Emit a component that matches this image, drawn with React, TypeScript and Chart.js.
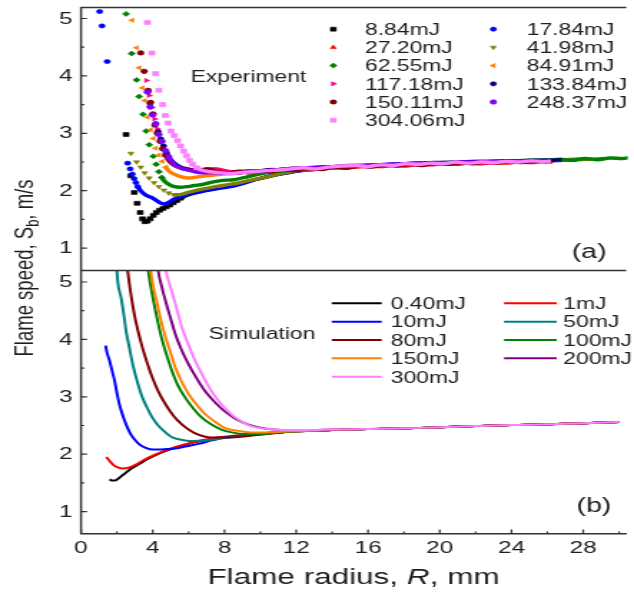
import React, { useEffect, useRef } from 'react';
import { Chart, registerables } from 'chart.js';
import { drawPoint } from 'chart.js/helpers';

Chart.register(...registerables);

type P = [number, number];

// ---------- tick labels ----------
const xTickValues = [0, 4, 8, 12, 16, 20, 24, 28];
const yTickValues = [1, 2, 3, 4, 5];

// ---------- legend labels ----------
const expLabels = ['8.84mJ', '17.84mJ', '27.20mJ', '41.98mJ', '62.55mJ', '84.91mJ', '117.18mJ', '133.84mJ', '150.11mJ', '248.37mJ', '304.06mJ'];
const simLabels = ['0.40mJ', '1mJ', '10mJ', '50mJ', '80mJ', '100mJ', '150mJ', '200mJ', '300mJ'];

// ---------- experiment (a): sparse early points (markers) ----------
const exp884Head: P[] = [[2.51, 2.98], [2.77, 2.26], [2.97, 1.97], [3.13, 1.78], [3.30, 1.62], [3.43, 1.51], [3.56, 1.46], [3.70, 1.47], [3.86, 1.51], [4.03, 1.57], [4.20, 1.62], [4.38, 1.66], [4.57, 1.69], [4.76, 1.72], [4.95, 1.75], [5.15, 1.79], [5.35, 1.83], [5.55, 1.87]];
const exp1784Head: P[] = [[1.04, 5.12], [1.17, 4.87], [1.46, 4.25], [2.60, 2.48], [2.74, 2.38], [2.86, 2.29], [2.96, 2.21], [3.06, 2.14], [3.16, 2.07]];
const exp2720Head: P[] = [[6.45, 2.33], [6.70, 2.35], [6.95, 2.37]];
const exp4198Head: P[] = [[2.78, 2.65], [3.10, 2.50], [3.33, 2.41], [3.55, 2.31], [3.80, 2.22], [4.07, 2.14], [4.34, 2.07], [4.62, 2.01], [4.89, 1.96], [5.16, 1.93]];
const exp6255Head: P[] = [[2.51, 5.08], [2.82, 4.39], [3.10, 3.93], [3.24, 3.64], [3.46, 3.33], [3.63, 3.04], [3.80, 2.80], [4.03, 2.60], [4.19, 2.46], [4.34, 2.33], [4.50, 2.23]];
const exp8491Head: P[] = [[2.84, 4.97], [3.10, 4.49], [3.24, 4.14], [3.42, 3.79], [3.55, 3.57], [3.70, 3.28], [3.88, 3.06], [4.03, 2.91], [4.16, 2.74], [4.33, 2.62], [4.52, 2.51], [4.72, 2.41]];
const exp11718Head: P[] = [[3.65, 3.92], [3.80, 3.66], [3.95, 3.45], [4.10, 3.25], [4.25, 3.08], [4.40, 2.92], [4.58, 2.78], [4.78, 2.64], [4.98, 2.53]];
const exp13384Head: P[] = [[3.72, 3.72], [3.85, 3.52], [4.00, 3.33], [4.16, 3.17], [4.30, 3.03], [4.45, 2.90], [4.60, 2.78], [4.75, 2.67]];
const exp15011Head: P[] = [[3.33, 4.40], [3.52, 4.08], [3.74, 3.75], [3.88, 3.54], [4.01, 3.34], [4.12, 3.14], [4.25, 3.00], [4.40, 2.86], [4.55, 2.73], [4.70, 2.62]];
const exp24837Head: P[] = [[3.70, 3.72], [3.85, 3.46], [4.00, 3.32], [4.16, 3.16], [4.34, 2.98], [4.52, 2.86], [4.71, 2.70], [4.89, 2.59]];
const exp30406Head: P[] = [[3.70, 4.93], [3.95, 4.40], [4.16, 4.04], [4.34, 3.75], [4.55, 3.50], [4.70, 3.31], [4.85, 3.18], [5.02, 3.04], [5.20, 2.96], [5.38, 2.87], [5.55, 2.78], [5.72, 2.69], [5.88, 2.61], [6.05, 2.53], [6.22, 2.46], [6.45, 2.40]];

// ---------- experiment (a): dense later points (drawn as a continuous trace) ----------
const exp884Tail: P[] = [[5.55, 1.87], [6.0, 1.93], [6.6, 1.98], [7.3, 2.03], [8.0, 2.07], [8.7, 2.12], [9.4, 2.17], [10.1, 2.22], [10.8, 2.27], [11.5, 2.31], [12.2, 2.35], [13.0, 2.37], [14.0, 2.40], [15.0, 2.42], [16.0, 2.43], [17.0, 2.45], [18.0, 2.46], [19.0, 2.47], [20.0, 2.48], [21.0, 2.49], [22.0, 2.50], [23.0, 2.50], [24.0, 2.51], [25.0, 2.52], [26.0, 2.52], [27.0, 2.53], [27.6, 2.53]];
const exp1784Tail: P[] = [[3.16, 2.07], [3.32, 2.00], [3.5, 1.95], [3.7, 1.91], [3.95, 1.88], [4.2, 1.83], [4.4, 1.79], [4.58, 1.77], [4.78, 1.78], [5.0, 1.82], [5.25, 1.86], [5.55, 1.90], [5.9, 1.93], [6.3, 1.96], [6.8, 1.99], [7.3, 2.02], [7.9, 2.05], [8.5, 2.08], [9.1, 2.13], [9.7, 2.19], [10.3, 2.24], [10.9, 2.28], [11.6, 2.32], [12.3, 2.35], [13.1, 2.38], [14.0, 2.40], [15.0, 2.42], [16.0, 2.44], [17.0, 2.45], [18.0, 2.46], [19.0, 2.48], [20.0, 2.48], [21.0, 2.50], [22.0, 2.50], [23.0, 2.51], [24.0, 2.52], [25.0, 2.52], [26.0, 2.53], [27.0, 2.54], [28.0, 2.55], [28.4, 2.55]];
const exp2720Tail: P[] = [[6.95, 2.37], [7.5, 2.38], [8.1, 2.34], [8.7, 2.31], [9.3, 2.33], [9.9, 2.35], [10.5, 2.34], [11.1, 2.37], [11.8, 2.38], [12.5, 2.37], [13.2, 2.40], [13.9, 2.39], [14.6, 2.42], [15.3, 2.41], [16.0, 2.43], [16.7, 2.42], [17.4, 2.44], [18.1, 2.43], [18.8, 2.46], [19.5, 2.45], [20.2, 2.47], [20.9, 2.46], [21.6, 2.48], [22.3, 2.47], [23.0, 2.49], [23.7, 2.48], [24.4, 2.50], [25.1, 2.49], [25.8, 2.51], [26.3, 2.50]];
const exp4198Tail: P[] = [[5.16, 1.93], [5.45, 1.93], [5.75, 1.95], [6.1, 1.98], [6.5, 2.01], [7.0, 2.04], [7.5, 2.07], [8.1, 2.10], [8.7, 2.13], [9.3, 2.17], [9.9, 2.21], [10.5, 2.25], [11.2, 2.30], [11.9, 2.34], [12.7, 2.37], [13.5, 2.39], [14.5, 2.41], [15.5, 2.43], [16.5, 2.44], [17.5, 2.45], [18.5, 2.47], [19.5, 2.48], [20.5, 2.49], [21.5, 2.50], [22.5, 2.50], [23.5, 2.51], [24.5, 2.52], [25.5, 2.52], [26.5, 2.53], [27.5, 2.54], [28.5, 2.55], [29.2, 2.56]];
const exp6255Tail: P[] = [[4.50, 2.23], [4.7, 2.15], [4.95, 2.10], [5.2, 2.07], [5.5, 2.06], [5.9, 2.07], [6.3, 2.09], [6.8, 2.11], [7.3, 2.15], [7.9, 2.18], [8.5, 2.19], [9.1, 2.23], [9.8, 2.28], [10.5, 2.32], [11.2, 2.34], [12.0, 2.37], [12.8, 2.39], [13.6, 2.40], [14.4, 2.42], [15.2, 2.43], [16.0, 2.44], [17.0, 2.45], [18.0, 2.47], [19.0, 2.48], [20.0, 2.49], [21.0, 2.50], [22.0, 2.51], [23.0, 2.51], [24.0, 2.52], [25.0, 2.53], [26.0, 2.53], [26.7, 2.55], [27.4, 2.53], [28.1, 2.56], [28.8, 2.54], [29.5, 2.57], [30.2, 2.56], [30.6, 2.58]];
const exp8491Tail: P[] = [[4.72, 2.41], [4.95, 2.33], [5.25, 2.28], [5.6, 2.24], [6.0, 2.22], [6.5, 2.24], [7.0, 2.26], [7.6, 2.28], [8.2, 2.30], [8.9, 2.32], [9.6, 2.33], [10.3, 2.35], [11.0, 2.36], [11.8, 2.38], [12.6, 2.39], [13.4, 2.41], [14.2, 2.42], [15.0, 2.43], [16.0, 2.44], [17.0, 2.45], [18.0, 2.46], [19.0, 2.48], [20.0, 2.48], [21.0, 2.49], [22.0, 2.50], [23.0, 2.50], [24.0, 2.51], [25.0, 2.52]];
const exp11718Tail: P[] = [[4.98, 2.53], [5.25, 2.45], [5.6, 2.40], [6.0, 2.37], [6.5, 2.36], [7.0, 2.38], [7.5, 2.37], [8.1, 2.34], [8.7, 2.33], [9.3, 2.35], [9.9, 2.34], [10.6, 2.37], [11.3, 2.36], [12.0, 2.39], [12.8, 2.38], [13.6, 2.41], [14.4, 2.40], [15.2, 2.43], [16.0, 2.42], [16.8, 2.45], [17.6, 2.44], [18.4, 2.47], [19.2, 2.46], [20.0, 2.48], [20.8, 2.47], [21.6, 2.49], [22.4, 2.48], [23.2, 2.50], [24.0, 2.50]];
const exp13384Tail: P[] = [[4.75, 2.67], [4.95, 2.56], [5.2, 2.48], [5.5, 2.42], [5.9, 2.38], [6.4, 2.35], [7.0, 2.33], [7.6, 2.32], [8.3, 2.31], [9.0, 2.33], [9.7, 2.34], [10.4, 2.36], [11.1, 2.37], [11.8, 2.39], [12.5, 2.40], [13.3, 2.41], [14.1, 2.42], [14.9, 2.44], [15.7, 2.44], [16.5, 2.45], [17.3, 2.46], [18.1, 2.47], [18.9, 2.48], [19.7, 2.49], [20.5, 2.49], [21.3, 2.50], [22.1, 2.51], [22.9, 2.51], [23.7, 2.52], [24.5, 2.52], [25.3, 2.53], [26.1, 2.53], [26.8, 2.54]];
const exp15011Tail: P[] = [[4.70, 2.62], [4.9, 2.52], [5.2, 2.44], [5.6, 2.39], [6.1, 2.36], [6.6, 2.35], [7.1, 2.38], [7.6, 2.33], [8.2, 2.31], [8.8, 2.34], [9.4, 2.31], [10.0, 2.35], [10.6, 2.33], [11.3, 2.37], [12.0, 2.35], [12.7, 2.39], [13.4, 2.37], [14.1, 2.41], [14.8, 2.39], [15.5, 2.43], [16.2, 2.41], [16.9, 2.45], [17.6, 2.43], [18.3, 2.46], [19.0, 2.44], [19.7, 2.48], [20.4, 2.46], [21.1, 2.49], [21.8, 2.47], [22.5, 2.50], [23.2, 2.48], [23.9, 2.51], [24.6, 2.49], [25.3, 2.52], [26.0, 2.50]];
const exp24837Tail: P[] = [[4.89, 2.59], [5.15, 2.47], [5.6, 2.39], [6.1, 2.35], [6.8, 2.31], [7.6, 2.31], [8.4, 2.30], [9.1, 2.32], [9.8, 2.34], [10.5, 2.35], [11.2, 2.37], [11.9, 2.38], [12.6, 2.40], [13.3, 2.41], [14.0, 2.42], [14.8, 2.43], [15.6, 2.44], [16.4, 2.45], [17.2, 2.46], [18.0, 2.47], [18.8, 2.48], [19.6, 2.48], [20.4, 2.49], [21.2, 2.50], [22.0, 2.50], [22.8, 2.51], [23.6, 2.52], [24.4, 2.52], [25.2, 2.52]];
const exp30406Tail: P[] = [[6.45, 2.40], [6.7, 2.36], [7.2, 2.33], [7.8, 2.31], [8.4, 2.30], [9.0, 2.32], [9.6, 2.33], [10.3, 2.35], [11.0, 2.36], [11.7, 2.38], [12.4, 2.40], [13.1, 2.38], [13.8, 2.41], [14.5, 2.43], [15.3, 2.44], [16.0, 2.42], [16.7, 2.45], [17.4, 2.44], [18.1, 2.47], [18.8, 2.46], [19.5, 2.48], [20.2, 2.47], [20.9, 2.50], [21.6, 2.48], [22.3, 2.50], [23.0, 2.49], [23.7, 2.51], [24.4, 2.50], [25.1, 2.52], [25.8, 2.51], [26.2, 2.52]];

// ---------- simulation (b) ----------
const sim040: P[] = [[1.59, 1.56], [1.75, 1.54], [1.90, 1.54], [2.10, 1.58], [2.30, 1.63], [2.51, 1.68], [2.80, 1.75], [3.24, 1.83], [3.80, 1.93], [4.50, 2.03], [5.30, 2.12], [6.20, 2.20], [7.20, 2.26], [8.50, 2.31], [10.0, 2.35], [12.0, 2.40], [14.0, 2.42], [16.0, 2.44], [18.0, 2.45], [20.0, 2.47], [22.0, 2.49], [24.0, 2.51], [26.0, 2.52], [28.0, 2.54], [30.0, 2.56]];
const sim1: P[] = [[1.41, 1.95], [1.55, 1.90], [1.78, 1.82], [2.05, 1.77], [2.33, 1.75], [2.70, 1.77], [3.06, 1.82], [3.50, 1.90], [3.97, 1.97], [4.89, 2.09], [6.17, 2.20], [7.20, 2.27], [8.50, 2.32], [10.0, 2.36], [12.0, 2.40], [14.0, 2.42], [16.0, 2.44], [18.0, 2.45], [20.0, 2.47], [22.0, 2.49], [24.0, 2.51], [26.0, 2.52], [28.0, 2.54], [30.0, 2.56]];
const sim10: P[] = [[1.37, 3.89], [1.45, 3.77], [1.59, 3.63], [1.75, 3.43], [1.87, 3.28], [2.00, 3.07], [2.14, 2.87], [2.30, 2.70], [2.51, 2.52], [2.75, 2.36], [3.06, 2.23], [3.30, 2.16], [3.61, 2.11], [4.00, 2.08], [4.34, 2.08], [4.80, 2.09], [5.26, 2.10], [5.90, 2.14], [6.54, 2.18], [7.30, 2.24], [8.00, 2.29], [9.00, 2.33], [10.3, 2.37], [12.0, 2.40], [14.0, 2.42], [16.0, 2.44], [18.0, 2.45], [20.0, 2.47], [22.0, 2.49], [24.0, 2.51], [26.0, 2.52], [28.0, 2.54], [30.0, 2.56]];
const sim50: P[] = [[1.97, 5.35], [2.05, 5.00], [2.23, 4.73], [2.40, 4.40], [2.51, 4.15], [2.70, 3.85], [2.88, 3.57], [3.15, 3.25], [3.42, 2.99], [3.70, 2.80], [3.97, 2.64], [4.30, 2.50], [4.71, 2.38], [5.05, 2.30], [5.44, 2.26], [5.80, 2.24], [6.17, 2.23], [6.70, 2.24], [7.26, 2.25], [8.00, 2.28], [8.74, 2.31], [10.0, 2.35], [12.0, 2.40], [14.0, 2.42], [16.0, 2.44], [18.0, 2.45], [20.0, 2.47], [22.0, 2.49], [24.0, 2.51], [26.0, 2.52], [28.0, 2.54], [30.0, 2.56]];
const sim80: P[] = [[2.55, 5.35], [2.60, 5.20], [2.75, 4.85], [2.97, 4.44], [3.20, 4.12], [3.42, 3.86], [3.70, 3.58], [3.97, 3.34], [4.30, 3.10], [4.71, 2.87], [5.15, 2.67], [5.62, 2.52], [6.10, 2.41], [6.54, 2.34], [7.00, 2.30], [7.45, 2.29], [8.00, 2.29], [8.74, 2.30], [10.0, 2.34], [12.0, 2.40], [14.0, 2.42], [16.0, 2.44], [18.0, 2.45], [20.0, 2.47], [22.0, 2.49], [24.0, 2.51], [26.0, 2.52], [28.0, 2.54], [30.0, 2.56]];
const sim100: P[] = [[3.70, 5.35], [3.75, 5.20], [3.90, 4.90], [4.07, 4.62], [4.30, 4.28], [4.53, 3.98], [4.80, 3.70], [5.07, 3.45], [5.40, 3.20], [5.80, 2.99], [6.25, 2.80], [6.72, 2.64], [7.25, 2.52], [7.82, 2.43], [8.40, 2.38], [9.10, 2.35], [10.0, 2.35], [10.7, 2.37], [12.0, 2.40], [14.0, 2.42], [16.0, 2.44], [18.0, 2.45], [20.0, 2.47], [22.0, 2.49], [24.0, 2.51], [26.0, 2.52], [28.0, 2.54], [30.0, 2.56]];
const sim150: P[] = [[3.83, 5.35], [3.88, 5.20], [4.05, 4.88], [4.25, 4.62], [4.48, 4.30], [4.71, 4.04], [5.00, 3.76], [5.26, 3.51], [5.60, 3.27], [5.99, 3.05], [6.45, 2.86], [6.91, 2.70], [7.45, 2.57], [8.00, 2.46], [8.70, 2.41], [9.47, 2.38], [10.3, 2.38], [11.2, 2.39], [12.0, 2.40], [14.0, 2.42], [16.0, 2.44], [18.0, 2.45], [20.0, 2.47], [22.0, 2.49], [24.0, 2.51], [26.0, 2.52], [28.0, 2.54], [30.0, 2.56]];
const sim200: P[] = [[4.25, 5.35], [4.30, 5.20], [4.50, 4.92], [4.71, 4.67], [5.00, 4.36], [5.26, 4.09], [5.60, 3.82], [5.99, 3.57], [6.45, 3.32], [6.91, 3.10], [7.45, 2.91], [8.00, 2.75], [8.60, 2.62], [9.29, 2.52], [10.0, 2.46], [10.75, 2.43], [11.6, 2.42], [12.6, 2.42], [14.0, 2.43], [16.0, 2.44], [18.0, 2.45], [20.0, 2.47], [22.0, 2.49], [24.0, 2.51], [26.0, 2.52], [28.0, 2.54], [30.0, 2.56]];
const sim300: P[] = [[4.69, 5.35], [4.74, 5.20], [4.95, 4.95], [5.16, 4.73], [5.40, 4.46], [5.62, 4.21], [6.00, 3.90], [6.36, 3.63], [6.80, 3.36], [7.27, 3.10], [7.80, 2.88], [8.37, 2.70], [8.90, 2.58], [9.47, 2.49], [10.1, 2.45], [10.75, 2.43], [11.6, 2.42], [12.6, 2.42], [14.0, 2.43], [16.0, 2.44], [18.0, 2.45], [20.0, 2.47], [22.0, 2.49], [24.0, 2.51], [26.0, 2.52], [28.0, 2.54], [30.0, 2.56]];

const expHeads = [exp884Head, exp1784Head, exp2720Head, exp4198Head, exp6255Head, exp8491Head, exp11718Head, exp13384Head, exp15011Head, exp24837Head, exp30406Head];
const expTails = [exp884Tail, exp1784Tail, exp2720Tail, exp4198Tail, exp6255Tail, exp8491Tail, exp11718Tail, exp13384Tail, exp15011Tail, exp24837Tail, exp30406Tail];
const simSeries = [sim040, sim1, sim10, sim50, sim80, sim100, sim150, sim200, sim300];

// ---------- styles ----------
const expColors = ['#000000', '#0000ff', '#ff0000', '#808000', '#008000', '#ff8000', '#ff0080', '#000080', '#800000', '#8000ff', '#ff80ff'];
const expMarkers = ['rect', 'circle', 'triangle', 'triangle', 'rectRot', 'triangle', 'triangle', 'circle', 'star', 'circle', 'rect'];
const expRotations = [0, 0, 0, 180, 0, -90, 90, 0, 0, 0, 0];
const expRadius = [2.8, 2.1, 2.4, 2.4, 2.5, 2.4, 2.4, 2.1, 2.6, 2.3, 2.9];
const simColors = ['#000000', '#ff0000', '#0000ff', '#008080', '#800000', '#008000', '#ff8000', '#800080', '#ff80ff'];

const VIEW_W = 634;
const VIEW_H = 592;
const CW = 443; // logical canvas width, stretched horizontally to VIEW_W
const FONT = '"Liberation Sans", Arial, Helvetica, sans-serif';
const AXIS = '#333333';
const TEXT = '#1e1e1e';

const toXY = (arr: P[]) => arr.map(([x, y]) => ({ x, y }));

const decorPlugin = {
  id: 'decor',
  afterDraw(chart: any) {
    const ctx: CanvasRenderingContext2D = chart.ctx;
    const { left, right, top, bottom } = chart.chartArea;
    const xs = chart.scales.x;
    const ya = chart.scales.ya;
    const yb = chart.scales.yb;
    ctx.save();
    ctx.strokeStyle = AXIS;
    ctx.lineWidth = 1.5;
    ctx.beginPath();
    ctx.moveTo(left, top + 0.5);
    ctx.lineTo(right, top + 0.5);
    ctx.moveTo(left, ya.bottom);
    ctx.lineTo(right, ya.bottom);
    ctx.moveTo(left, top);
    ctx.lineTo(left, bottom);
    ctx.stroke();

    // inward tick marks
    ctx.lineWidth = 1.2;
    ctx.beginPath();
    [ya, yb].forEach((s: any) => {
      for (let v = 1; v <= 5; v += 0.5) {
        const py = s.getPixelForValue(v);
        if (py < s.top || py > s.bottom) continue;
        const len = Number.isInteger(v) ? 4.2 : 2.3;
        ctx.moveTo(left, py);
        ctx.lineTo(left + len, py);
      }
    });
    for (let v = 0; v <= 30; v += 2) {
      const px = xs.getPixelForValue(v);
      const len = v % 4 === 0 ? 4.5 : 2.5;
      ctx.moveTo(px, bottom);
      ctx.lineTo(px, bottom - len);
    }
    ctx.stroke();

    // y tick labels for both stacked panels
    ctx.fillStyle = TEXT;
    ctx.font = `17px ${FONT}`;
    ctx.textAlign = 'right';
    ctx.textBaseline = 'middle';
    [ya, yb].forEach((s: any) => {
      yTickValues.forEach((v) => {
        ctx.fillText(String(v), left - 6, s.getPixelForValue(v) + 0.5);
      });
    });

    // panel texts
    ctx.font = `16px ${FONT}`;
    ctx.textAlign = 'center';
    ctx.textBaseline = 'alphabetic';
    ctx.fillText('Experiment', 173.6, 81.5);
    ctx.fillText('Simulation', 183, 339);
    ctx.font = `20px ${FONT}`;
    ctx.fillText('(a)', 411.6, 258);
    ctx.fillText('(b)', 415, 512);

    // experiment legend
    ctx.font = `16px ${FONT}`;
    ctx.textAlign = 'left';
    expLabels.forEach((lab, i) => {
      const col = i % 2;
      const row = Math.floor(i / 2);
      const cy = 29.2 + row * 18.2;
      const mx = col === 0 ? 232.9 : 344.7;
      const tx = col === 0 ? 255 : 368;
      ctx.fillStyle = expColors[i];
      ctx.strokeStyle = expColors[i];
      const bw = expMarkers[i] === 'star' ? 1.4 : 0.6;
      ctx.lineWidth = bw;
      drawPoint(ctx, { pointStyle: expMarkers[i] as any, rotation: expRotations[i], radius: expRadius[i], borderWidth: bw } as any, mx, cy);
      ctx.fillStyle = TEXT;
      ctx.fillText(lab, tx, cy + 5.8);
    });

    // simulation legend
    simLabels.forEach((lab, i) => {
      const col = i % 2;
      const row = Math.floor(i / 2);
      const cy = 303.3 + row * 18.35;
      const x0 = col === 0 ? 231.8 : 352.2;
      const x1 = col === 0 ? 266.7 : 389;
      const tx = col === 0 ? 273 : 393.6;
      ctx.strokeStyle = simColors[i];
      ctx.lineWidth = 2;
      ctx.beginPath();
      ctx.moveTo(x0, cy);
      ctx.lineTo(x1, cy);
      ctx.stroke();
      ctx.fillStyle = TEXT;
      ctx.fillText(lab, tx, cy + 5.8);
    });

    // x axis title with italic R
    {
      const parts: [string, string][] = [['Flame radius, ', 'normal'], ['R', 'italic'], [', mm', 'normal']];
      const size = 22;
      let total = 0;
      const widths = parts.map(([t, st]) => {
        ctx.font = `${st} ${size}px ${FONT}`;
        const w = ctx.measureText(t).width;
        total += w;
        return w;
      });
      let x = 247 - total / 2;
      ctx.textAlign = 'left';
      parts.forEach(([t, st], i) => {
        ctx.font = `${st} ${size}px ${FONT}`;
        ctx.fillText(t, x, 584);
        x += widths[i];
      });
    }

    // y axis title with subscript b (rotated)
    {
      const size = 18.5;
      const sub = 13;
      ctx.save();
      ctx.translate(23, 268);
      ctx.rotate(-Math.PI / 2);
      ctx.font = `${size}px ${FONT}`;
      const a = 'Flame speed, S';
      const c = ', m/s';
      const wa = ctx.measureText(a).width;
      const wc = ctx.measureText(c).width;
      ctx.font = `${sub}px ${FONT}`;
      const wb = ctx.measureText('b').width;
      const total = wa + wb + wc;
      let x = -total / 2;
      ctx.textAlign = 'left';
      ctx.font = `${size}px ${FONT}`;
      ctx.fillText(a, x, 0);
      x += wa;
      ctx.font = `${sub}px ${FONT}`;
      ctx.fillText('b', x, 4);
      x += wb;
      ctx.font = `${size}px ${FONT}`;
      ctx.fillText(c, x, 0);
      ctx.restore();
    }
    ctx.restore();
  },
};

export default function App() {
  const ref = useRef<HTMLCanvasElement>(null);

  useEffect(() => {
    const canvas = ref.current;
    if (!canvas) return;
    const datasets: any[] = [];

    simSeries.forEach((d, i) => {
      datasets.push({
        label: simLabels[i],
        data: toXY(d),
        xAxisID: 'x',
        yAxisID: 'yb',
        borderColor: simColors[i],
        backgroundColor: simColors[i],
        borderWidth: 2,
        pointRadius: 0,
        cubicInterpolationMode: 'monotone',
        fill: false,
        clip: 0,
        order: 200 - i,
      });
    });

    expHeads.forEach((d, i) => {
      datasets.push({
        label: expLabels[i] + ' trace',
        data: toXY(expTails[i]),
        xAxisID: 'x',
        yAxisID: 'ya',
        borderColor: expColors[i],
        backgroundColor: expColors[i],
        borderWidth: 3.4,
        pointRadius: 0,
        cubicInterpolationMode: 'monotone',
        fill: false,
        clip: 1,
        order: 100 - 2 * i,
      });
      datasets.push({
        label: expLabels[i],
        data: toXY(d),
        xAxisID: 'x',
        yAxisID: 'ya',
        showLine: false,
        borderColor: expColors[i],
        backgroundColor: expColors[i],
        pointStyle: expMarkers[i],
        pointRotation: expRotations[i],
        pointRadius: expRadius[i],
        pointBorderWidth: expMarkers[i] === 'star' ? 1.4 : 0.6,
        pointBackgroundColor: expColors[i],
        pointBorderColor: expColors[i],
        clip: 4,
        order: 100 - 2 * i - 1,
      });
    });

    const yCommon = () => ({
      type: 'linear',
      position: 'left',
      stack: 'panels',
      stackWeight: 1,
      min: 0.61,
      max: 5.2,
      afterBuildTicks: (s: any) => {
        s.ticks = yTickValues.map((v) => ({ value: v }));
      },
      afterFit: (s: any) => {
        s.width = 56.6;
      },
      grid: { display: false, drawTicks: false },
      border: { display: false },
      ticks: { display: false },
    });

    const chart = new Chart(canvas, {
      type: 'line',
      data: { datasets },
      options: {
        responsive: false,
        animation: false,
        devicePixelRatio: 1,
        events: [],
        layout: { padding: { left: 0, right: 0, top: 7, bottom: 0 } },
        plugins: { legend: { display: false }, tooltip: { enabled: false } },
        scales: {
          x: {
            type: 'linear',
            position: 'bottom',
            min: 0,
            max: 30.4,
            afterBuildTicks: (s: any) => {
              s.ticks = xTickValues.map((v) => ({ value: v }));
            },
            afterFit: (s: any) => {
              s.height = 58;
            },
            grid: { display: false, drawTicks: false },
            border: { display: true, color: AXIS, width: 1.5 },
            ticks: { font: { family: FONT, size: 17 }, color: TEXT, padding: 4, maxRotation: 0, autoSkip: false },
          },
          yb: yCommon(),
          ya: yCommon(),
        } as any,
      },
      plugins: [decorPlugin],
    } as any);

    return () => chart.destroy();
  }, []);

  return (
    <div style={{ position: 'fixed', left: 0, top: 0, width: VIEW_W, height: VIEW_H, background: '#ffffff', overflow: 'hidden' }}>
      <canvas
        ref={ref}
        width={CW}
        height={VIEW_H}
        style={{ width: `${VIEW_W}px`, height: `${VIEW_H}px`, display: 'block' }}
      />
    </div>
  );
}
